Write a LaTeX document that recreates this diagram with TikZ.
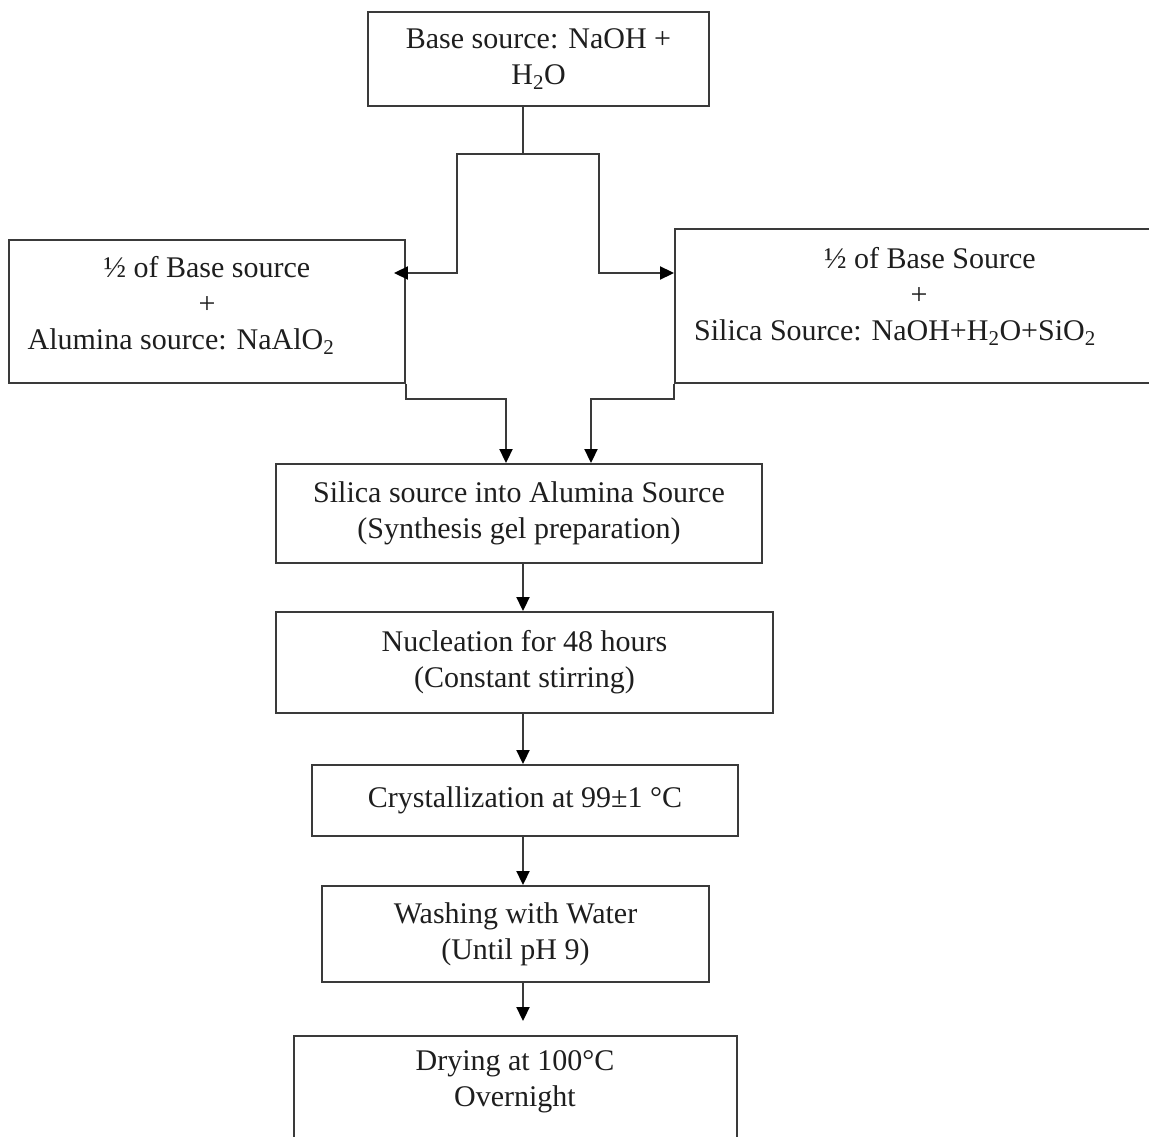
\documentclass[tikz,border=0pt]{standalone}
\usepackage{fontspec}
\setmainfont{Liberation Serif}
\usetikzlibrary{arrows.meta}
\definecolor{ink}{HTML}{1E1E1E}
\definecolor{edge}{HTML}{3A3A3A}
\begin{document}
\begin{tikzpicture}[x=1pt,y=-1pt,
  box/.style={draw=edge, line width=1.9pt, rectangle, inner sep=0pt, align=center, text=ink, font=\fontsize{30}{36}\selectfont},
  txt/.style={inner sep=0pt, align=center, text=ink, font=\fontsize{30}{36}\selectfont},
  conn/.style={draw=edge, line width=1.9pt},
  arr/.style={conn, -{Triangle[length=14pt,width=13pt,color=black]}}]
\useasboundingbox (0,0) rectangle (1149,1137);
% boxes
\node[box, minimum width=341pt, minimum height=94pt] (top) at (538.5,59) {Base source: NaOH +\\H\textsubscript{2}O};
\node[box, minimum width=396pt, minimum height=143pt] (left) at (207,311.5) {½ of Base source\\+\\Alumina source: NaAlO\textsubscript{2}\hspace*{52pt}\rule[-17pt]{0pt}{17pt}};
\node[box, minimum width=480pt, minimum height=154pt] (right) at (915,306) {\hspace*{30pt}½ of Base Source\\\hspace*{8pt}+\\Silica Source: NaOH+H\textsubscript{2}O+SiO\textsubscript{2}\hspace*{40pt}\rule[-25pt]{0pt}{25pt}};
\node[box, minimum width=486pt, minimum height=99pt] (silica) at (519,513.5) {Silica source into Alumina Source\\(Synthesis gel preparation)};
\node[box, minimum width=497pt, minimum height=101pt] (nuc) at (524.5,662.5) {Nucleation for 48 hours\\(Constant stirring)};
\node[box, minimum width=426pt, minimum height=71pt] (cryst) at (525,800.5) {Crystallization at 99±1 °C};
\node[box, minimum width=443pt, minimum height=134pt] (dry) at (515.5,1103) {};
\node[box, minimum width=387pt, minimum height=96pt] (wash) at (515.5,934) {Washing with Water\\(Until pH 9)};
\node[txt] (drytxt) at (515,1082) {Drying at 100°C\\Overnight};
% junction coordinates
\coordinate (axis) at (523,0);
\coordinate (j0) at (523,154);
\coordinate (jl) at (457,273);
\coordinate (jr) at (599,273);
\coordinate (ml) at (506,399);
\coordinate (mr) at (591,399);
% split from the base source
\draw[conn] (top.south -| j0) -- (j0);
\draw[arr] (j0) -| (jl) -- ([xshift=-12pt]left.east |- jl);
\draw[arr] (j0) -| (jr) -- (right.west |- jr);
% merge into synthesis gel
\draw[arr] (left.south east) |- (ml) -- (ml |- silica.north);
\draw[arr] (right.south west) |- (mr) -- (mr |- silica.north);
% main chain
\draw[arr] (silica.south -| axis) -- (nuc.north -| axis);
\draw[arr] (nuc.south -| axis) -- (cryst.north -| axis);
\draw[arr] (cryst.south -| axis) -- (wash.north -| axis);
\draw[arr] (wash.south -| axis) -- ([yshift=14pt]dry.north -| axis);
\end{tikzpicture}
\end{document}
